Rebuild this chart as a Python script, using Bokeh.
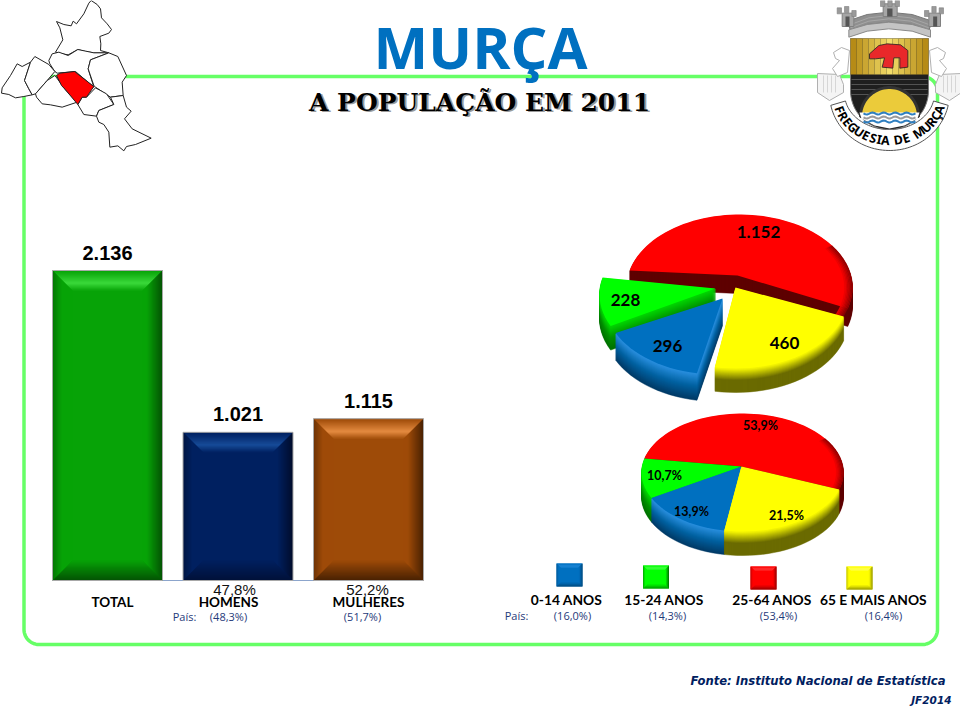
import numpy as np
from bokeh.core.properties import value
from bokeh.embed import file_html
from bokeh.models import Range1d
from bokeh.plotting import figure
from bokeh.resources import INLINE

bar_names = ["TOTAL", "HOMENS", "MULHERES"]
bar_values = [2136, 1021, 1115]
bar_shares = [None, 47.8, 52.2]
bar_country = [None, 48.3, 51.7]

age_names = ["0-14 ANOS", "15-24 ANOS", "25-64 ANOS", "65 E MAIS ANOS"]
age_values = [296, 228, 1152, 460]
age_shares = [13.9, 10.7, 53.9, 21.5]
age_country = [16.0, 14.3, 53.4, 16.4]

BLUE, GREEN, RED, YELLOW = "#0070C0", "#00FF00", "#FF0000", "#FFFF00"
age_colors = [BLUE, GREEN, RED, YELLOW]
NAVY = "#1F3A7A"

p = figure(width=960, height=720, x_range=(0, 960), y_range=(720, 0),
           output_backend="svg", toolbar_location=None, min_border=0,
           background_fill_color="white", border_fill_color="white")
p.axis.visible = False
p.grid.visible = False
p.outline_line_color = None

# bars have their own scale, baseline at y=580 in the page
PX_X = 130.5
PX_Y = 310 / 2136
p.extra_x_ranges["bars"] = Range1d((0 - 107) / PX_X, (960 - 107) / PX_X)
p.extra_y_ranges["bars"] = Range1d((580 - 720) / PX_Y, (580 - 0) / PX_Y)


def hex2rgb(c):
    return np.array([int(c[i:i + 2], 16) for i in (1, 3, 5)], dtype=float)


def mix(a, b, t):
    c = hex2rgb(a) * (1 - t) + hex2rgb(b) * t
    return "#%02x%02x%02x" % tuple(int(round(v)) for v in c)


def txt(x, y, s, size, font="Lato", style="bold", color="black", align="center", angle=0, **kw):
    p.text([x], [y], text=[s], text_font=value(font), text_font_size=size, text_font_style=style,
           text_color=color, text_align=align, text_baseline="middle", angle=angle, **kw)


def bevel(x0, x1, y0, y1, d, base, light, dark, ux=1.0, uy=1.0, **kw):
    # y0 bottom, y1 top; strips one step wide going inwards from each edge
    xs, ys, cs = [], [], []
    s = np.sign(y1 - y0)
    for t in range(d):
        f = t / d
        a, b = t * ux, (t + 1) * ux
        c, e = t * uy * s, (t + 1) * uy * s
        top = mix(base, light, f / 0.62) if f < 0.62 else mix(light, base, (f - 0.62) / 0.38)
        bot = mix(dark, base, f)
        right = mix(dark, base, min(f * 1.3, 1))
        left = mix(mix(base, dark, 0.55), base, min(f * 2.2, 1))
        xs += [[x0 + a, x1 - a, x1 - b, x0 + b], [x0 + a, x1 - a, x1 - b, x0 + b],
               [x1 - a, x1 - a, x1 - b, x1 - b], [x0 + a, x0 + a, x0 + b, x0 + b]]
        ys += [[y1 - c, y1 - c, y1 - e, y1 - e], [y0 + c, y0 + c, y0 + e, y0 + e],
               [y0 + c, y1 - c, y1 - e, y0 + e], [y0 + c, y1 - c, y1 - e, y0 + e]]
        cs += [top, bot, right, left]
    p.patches(xs, ys, fill_color=cs, line_color=None, **kw)


# frame
R = 15
fx0, fx1, fy0, fy1 = 23.5, 937, 76, 644
th = np.linspace(0, np.pi / 2, 16)
frame_x = np.concatenate([fx1 - R + R * np.sin(th), fx1 - R + R * np.cos(th), fx0 + R - R * np.sin(th),
                          fx0 + R - R * np.cos(th), [fx1 - R]])
frame_y = np.concatenate([fy0 + R - R * np.cos(th), fy1 - R + R * np.sin(th), fy1 - R + R * np.cos(th),
                          fy0 + R - R * np.sin(th), [fy0]])
p.line(frame_x, frame_y, line_color="#66FF66", line_width=3.5)

# map of the parishes
map_parts = [
    [(168, 63), (190, 72), (212, 76), (218, 62), (228, 70), (250, 40), (265, 8), (272, 0), (290, 12), (300, 25),
     (303, 52), (320, 70), (333, 87), (325, 98), (298, 108), (301, 130), (300, 150), (325, 157), (280, 157),
     (255, 153), (232, 147), (203, 163), (185, 160), (165, 155), (187, 118), (178, 82)],
    [(145, 180), (155, 160), (175, 155), (203, 165), (232, 147), (280, 157), (325, 157), (270, 178), (263, 205),
     (280, 260), (225, 213), (170, 218), (163, 213), (148, 190)],
    [(325, 157), (352, 168), (378, 225), (365, 245), (368, 285), (330, 290), (285, 260), (280, 255), (263, 205),
     (270, 178)],
    [(50, 190), (65, 198), (90, 185), (72, 240), (85, 265), (95, 283), (70, 288), (45, 292), (25, 282), (3, 278),
     (5, 262), (30, 225)],
    [(103, 168), (145, 192), (163, 213), (140, 240), (105, 280), (95, 283), (85, 265), (72, 240), (90, 185)],
    [(163, 225), (167, 230), (178, 245), (195, 268), (230, 305), (185, 320), (150, 313), (125, 310), (108, 290),
     (105, 280), (140, 240)],
    [(285, 262), (318, 280), (340, 312), (295, 330), (288, 347), (250, 342), (232, 312), (245, 290), (258, 290)],
    [(368, 285), (378, 320), (392, 332), (372, 355), (395, 385), (452, 413), (405, 432), (378, 438), (370, 451),
     (352, 436), (328, 440), (325, 395), (310, 372), (295, 365), (288, 347), (295, 330), (340, 312), (330, 290)],
    [(168, 225), (178, 218), (222, 213), (280, 258), (258, 290), (245, 290), (232, 312), (195, 268), (183, 255)],
]
p.patches([[a / 3 for a, b in m] for m in map_parts], [[b / 3 for a, b in m] for m in map_parts],
          fill_color=["white"] * 8 + ["#FF0000"], line_color="#222222", line_width=1)

# titles
txt(480, 46, "MURÇA", "58px", font="Open Sans", color="#0070C0")
txt(481, 103, "A POPULAÇÃO EM 2011", "25px", font="DejaVu Serif", color="#9a9a9a")
txt(479, 102, "A POPULAÇÃO EM 2011", "25px", font="DejaVu Serif", color="black")


# coat of arms, zoomed coordinates of the crop at (800, 0)
def zx(v):
    return 800 + np.asarray(v, dtype=float) / 3


def zy(v):
    return np.asarray(v, dtype=float) / 3


# ribbon round the shield
ang = np.radians(np.linspace(-78, 78, 60))
ox = 889 + 60 * np.sin(ang)
oy = 93 + 57 * np.cos(ang)
ix = 889 + 45 * np.sin(ang[::-1])
iy = 93 + 36 * np.cos(ang[::-1])
p.patch(np.concatenate([ox, ix]), np.concatenate([oy, iy]), fill_color="white", line_color="#555555", line_width=1)

for sgn in (-1, 1):
    # mantling: ribbon end with fringe and the curl above it
    end_x = [889 + sgn * v for v in (72, 50, 46, 46, 60, 72)]
    end_y = [73, 74, 84, 92, 100, 92]
    p.patch(end_x, end_y, fill_color="#f4f4f4", line_color="#b0b0b0", line_width=1)
    for v in (54, 58, 62, 66):
        p.line([889 + sgn * v, 889 + sgn * v], [75, 92], line_color="#c8c8c8", line_width=0.7)
    curl_x = [889 + sgn * v for v in (40, 48, 56, 54, 50, 57, 52, 42)]
    curl_y = [50, 47, 52, 58, 60, 68, 76, 72]
    p.patch(curl_x, curl_y, fill_color="white", line_color="#b0b0b0", line_width=1)

# crown: curved wall, rim and three towers with merlons
crown_x = zx([140, 200, 265, 335, 395, 385, 335, 265, 200, 150])
crown_y = zy([62, 42, 35, 42, 62, 90, 72, 65, 72, 90])
p.patch(crown_x, crown_y, fill_color="#8f8f8f", line_color="#777777")
for yy, col in [(50, "#b0b0b0"), (60, "#b0b0b0")]:
    p.line(zx([150, 205, 265, 330, 385]), zy([yy + 22, yy + 2, yy - 5, yy + 2, yy + 22]), line_color=col, line_width=0.7)
band_x = zx([145, 200, 265, 335, 390, 390, 335, 265, 200, 145])
band_y = zy([88, 72, 65, 72, 88, 110, 92, 85, 92, 110])
p.patch(band_x, band_y, fill_color="#c4c4c4", line_color="#8a8a8a")
p.quad(left=zx([248, 125, 385]), right=zx([290, 160, 420]), top=zy([10, 38, 38]), bottom=zy([48, 78, 78]),
       fill_color="#a6a6a6", line_color="#808080")
merlon_l = [240, 262, 284, 110, 132, 154, 372, 394, 416]
merlon_t = [0, 0, 0, 22, 18, 30, 30, 18, 22]
p.quad(left=zx(merlon_l), right=zx([v + 13 for v in merlon_l]), top=zy(merlon_t),
       bottom=zy([v + 18 for v in merlon_t]), fill_color="#9a9a9a", line_color="#808080", line_width=0.6)
p.quad(left=zx([260, 135, 398]), right=zx([276, 147, 410]), top=zy([24, 48, 48]), bottom=zy([48, 78, 78]),
       fill_color="#555555", line_color=None)

# shield
a = np.radians(np.linspace(90, -90, 50))
shield_x = np.concatenate([[850, 928], 889 + 39 * np.sin(a)])
shield_y = np.concatenate([[38, 38], 90 + 39 * np.cos(a)])
p.patch(shield_x, shield_y, fill_color="#1f1f1f", line_color="#777777")
for i in range(13):
    p.quad(left=[850 + i * 6], right=[856 + i * 6], top=[38], bottom=[74],
           fill_color=mix("#B68B16", "#F2DD6A", 1 - abs(i - 6) / 6), line_color=None)
for yy in (79, 84, 89, 94):
    p.line([851, 927], [yy, yy], line_color="#777777", line_width=0.6)
t = np.linspace(np.pi, 0, 40)
p.patch(889 + 29 * np.cos(t), 116 - 29 * np.sin(t), fill_color="#EBCB3A", line_color="#333333", line_width=3)
p.patch([859, 919, 917, 904, 889, 874, 861], [112, 112, 118, 125, 128, 125, 118], fill_color="#ffffff", line_color=None)
for yy, col in [(113, "#2F7FC0"), (117, "#9a9a9a"), (121, "#2F7FC0")]:
    wave = 889 + np.linspace(-26, 26, 30)
    p.line(wave, yy + np.cos((wave - 889) * 0.55), line_color=col, line_width=2)
boar_x = zx([207, 235, 260, 300, 322, 322, 298, 298, 280, 277, 245, 252, 225, 207])
boar_y = zy([160, 135, 130, 133, 150, 200, 203, 172, 172, 203, 200, 172, 175, 175])
p.patch(boar_x, boar_y, fill_color="#E8282A", line_color="#222222", line_width=0.8)

# motto, one letter at a time along the ribbon
motto = "FREGUESIA DE MURÇA"
adv = [{"I": 0.55, " ": 0.6, "M": 1.35}.get(ch, 1.0) for ch in motto]
cum = np.cumsum(adv) - np.array(adv) / 2
cum = (cum - cum[0]) / (cum[-1] - cum[0])
for ch, f in zip(motto, cum):
    rad = np.radians(70 - f * 140)
    txt(889 - 53 * np.sin(rad), 93 + 47 * np.cos(rad), ch, "12.5px", font="Noto Sans", style="bold",
        angle=-rad)

# bars
xi = list(range(len(bar_values)))
bar_base = ["#07A307", "#002060", "#9E4B08"]
bar_light = ["#4CEB4C", "#1C55A5", "#F59A4E"]
bar_dark = ["#023A02", "#000C2C", "#2E1400"]
p.segment([-0.42], [0], [2.42], [0], line_color="#8CA5CC", line_width=1.2, x_range_name="bars", y_range_name="bars")
p.vbar(x=xi, top=bar_values, width=110 / PX_X, fill_color=bar_base, line_color=None,
       x_range_name="bars", y_range_name="bars")
for i in xi:
    half = 55 / PX_X
    bevel(i - half, i + half, 0, bar_values[i], 20, bar_base[i], bar_light[i], bar_dark[i],
          ux=1 / PX_X, uy=1 / PX_Y, x_range_name="bars", y_range_name="bars")
p.vbar(x=xi, top=bar_values, width=110 / PX_X, fill_color=None, line_color="#a8a8a8", line_width=1,
       x_range_name="bars", y_range_name="bars")
bar_labels = [f"{v:,}".replace(",", ".") for v in bar_values]
p.text(xi, bar_values, text=bar_labels, text_font=value("Liberation Sans"), text_font_size="20px",
       text_font_style="bold", text_color="black", text_align="center", text_baseline="middle", y_offset=-18,
       x_range_name="bars", y_range_name="bars")


def pct(v, brackets=False):
    s = f"{v:.1f}%".replace(".", ",")
    return f"({s})" if brackets else s


bar_label_x = [112, 228, 368]
for i, name in enumerate(bar_names):
    if bar_shares[i] is not None:
        txt([0, 234, 367][i], 589, pct(bar_shares[i]), "15px", font="Liberation Sans", style="normal", color="#111111")
        txt([0, 228, 362][i], 616, pct(bar_country[i], True), "11px", font="Open Sans", style="normal", color=NAVY)
    txt(bar_label_x[i], 601, name, "13.5px")
txt(184, 616, "País:", "11px", font="Open Sans", style="normal", color=NAVY)


# pies: slices are cut from the values, going clockwise from the yellow one
def warp(deg):
    # front of the pie looks bigger than its back
    phi = np.radians(deg) - np.pi
    return phi + 0.1 * np.sin(phi) + np.pi


def slice_xy(a0, a1, center, apex, rx, ry):
    th = warp(np.linspace(a0, a1, max(int(abs(a1 - a0) / 3), 4)))
    return (np.concatenate([[apex[0]], center[0] + rx * np.sin(th)]),
            np.concatenate([[apex[1]], center[1] - ry * np.cos(th)]))


side_shade = {
    YELLOW: ["#ffff00", "#6b6b00", "#6b6b00"],
    BLUE: ["#2a90e0", "#00609f", "#003a66"],
    GREEN: ["#00d800", "#009000", "#007000"],
    RED: ["#5e0000", "#5e0000", "#5e0000"],
}


def shade(col, f):
    a, b, c = side_shade[col]
    return mix(a, b, f * 2) if f < 0.5 else mix(b, c, f * 2 - 1)


def draw_pie(shares, centers, apexes, rx, ry, depths, order):
    angle = 112.0
    spans = {}
    for i in [3, 0, 1, 2]:
        da = shares[i] / sum(shares) * 360
        spans[i] = (angle, angle + da)
        angle += da
    for i in order:
        a0, a1 = spans[i]
        x, y = slice_xy(a0, a1, centers[i], apexes[i], rx, ry)
        depth = depths[i]
        xs = [list(x) for k in range(depth, 0, -1)]
        ys = [list(y + k) for k in range(depth, 0, -1)]
        cs = [shade(age_colors[i], k / depth) for k in range(depth, 0, -1)]
        p.patches(xs, ys, fill_color=cs, line_color=cs, line_width=0.5)
        p.patch(x, y, fill_color=age_colors[i], line_color=None)
        if age_colors[i] == RED:
            # red darkens towards its right hand edge
            cx, cy = centers[i]
            xs, ys, cs = [], [], []
            for d0 in range(55, 115, 4):
                t0, t1 = np.radians(d0), np.radians(d0 + 4)
                for j in range(6):
                    r0, r1 = 1 - j * 0.012, 1 - (j + 1) * 0.012
                    xs.append([cx + rx * r0 * np.sin(t0), cx + rx * r0 * np.sin(t1),
                               cx + rx * r1 * np.sin(t1), cx + rx * r1 * np.sin(t0)])
                    ys.append([cy - ry * r0 * np.cos(t0), cy - ry * r0 * np.cos(t1),
                               cy - ry * r1 * np.cos(t1), cy - ry * r1 * np.cos(t0)])
                    cs.append(mix("#8a0000", RED, j / 6))
            p.patches(xs, ys, fill_color=cs, line_color=cs, line_width=0.3)


big_centers = [(717, 301), (712, 294), (739, 287), (735, 295)]
big_apexes = [(722, 298), (715, 288), (737, 275), (735, 287)]
draw_pie(age_values, big_centers, big_apexes, 113, 73, [27, 24, 18, 24], [2, 1, 0, 3])
small_centers = [(742, 472)] * 4
small_apexes = [(741, 466)] * 4
draw_pie(age_shares, small_centers, small_apexes, 101, 59, [24, 24, 24, 24], [2, 1, 0, 3])

big_label_pos = [(667, 345), (625, 299), (758, 231), (784, 342)]
small_label_pos = [(691, 511), (664, 475), (760, 425), (786, 515)]
for i in range(4):
    x, y = big_label_pos[i]
    txt(x, y, f"{age_values[i]:,}".replace(",", "."), "17px")
    x, y = small_label_pos[i]
    txt(x, y, pct(age_shares[i]), "12.5px")

# legend
key_x = [569, 655.5, 763, 859]
key_y = [574.5, 576.5, 577.5, 577.5]
name_x = [566, 663.5, 771.5, 873]
country_x = [572, 667, 778, 883]
key_light = ["#2a90e0", "#66ff66", "#ff5050", "#ffff80"]
key_dark = ["#00406e", "#008000", "#800000", "#808000"]
p.quad(left=[x - 13 for x in key_x], right=[x + 13 for x in key_x], top=[y - 11.5 for y in key_y],
       bottom=[y + 11.5 for y in key_y], fill_color=age_colors, line_color=None)
for i in range(4):
    bevel(key_x[i] - 13, key_x[i] + 13, key_y[i] + 11.5, key_y[i] - 11.5, 4, age_colors[i], key_light[i], key_dark[i])
    txt(name_x[i], 598.5, age_names[i], "13.8px")
    txt(country_x[i], 615, pct(age_country[i], True), "11px", font="Open Sans", style="normal", color=NAVY)
txt(516, 615, "País:", "11px", font="Open Sans", style="normal", color=NAVY)

# source
txt(945, 680, "Fonte: Instituto Nacional de Estatística", "11.6px", font="DejaVu Sans", style="bold italic",
    color="#002060", align="right")
txt(951, 699, "JF2014", "10.5px", font="DejaVu Sans", style="bold italic", color="#002060", align="right")

open("out.html", "w").write(file_html(p, INLINE))
